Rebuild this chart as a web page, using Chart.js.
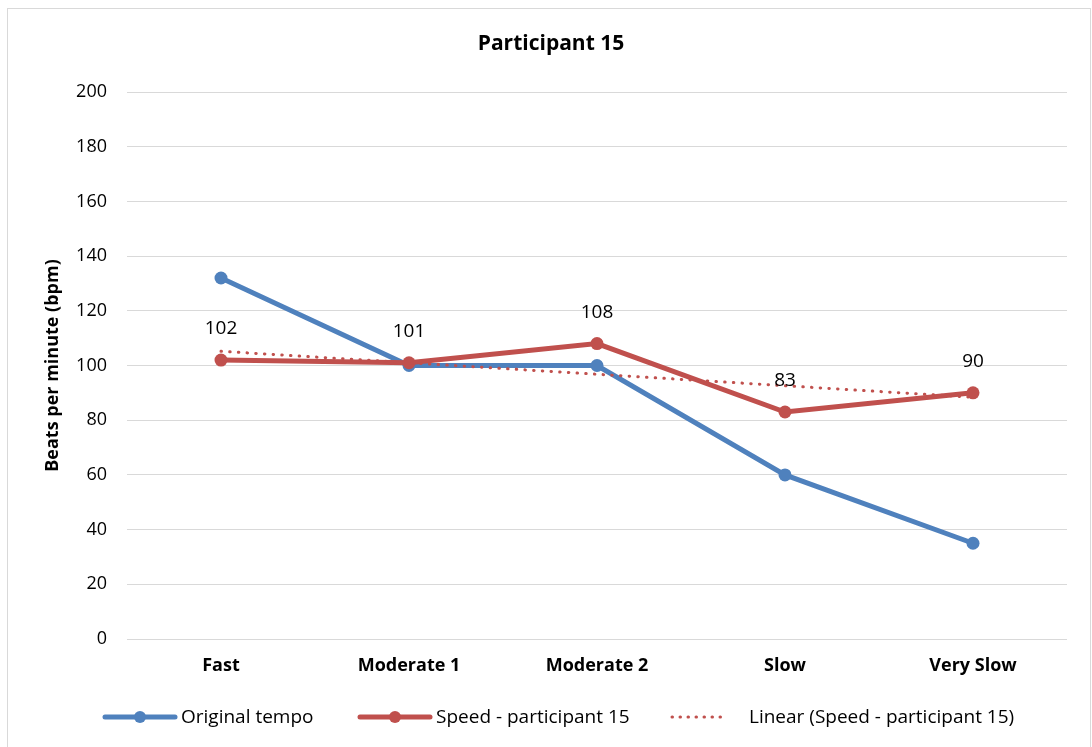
<!DOCTYPE html>
<html>
<head>
<meta charset="utf-8">
<script src="https://cdn.jsdelivr.net/npm/chart.js@4/dist/chart.umd.min.js"></script>
<style>
  html, body { margin: 0; padding: 0; background: #fff; }
  #wrap { width: 1092px; height: 747px; position: relative; }
</style>
</head>
<body>
<div id="wrap"><canvas id="tempoChart"></canvas></div>
<script>
// Tempo categories and measured bpm values
const categories = ['Fast', 'Moderate 1', 'Moderate 2', 'Slow', 'Very Slow'];
const originalTempo = [132, 100, 100, 60, 35];
const speedP15 = [102, 101, 108, 83, 90];
const linearP15 = [105.2, 101.0, 96.8, 92.6, 88.4];
const yTicks = [0, 20, 40, 60, 80, 100, 120, 140, 160, 180, 200];

const FONT = '"Open Sans", "Noto Sans", sans-serif';
const BLUE = '#4f81bd';
const RED = '#c0504d';

// frame around the whole chart
const framePlugin = {
    id: 'frame',
    beforeDraw(chart) {
        const ctx = chart.ctx;
        ctx.save();
        ctx.fillStyle = '#fff';
        ctx.fillRect(0, 0, chart.width, chart.height);
        ctx.strokeStyle = '#d9d9d9';
        ctx.lineWidth = 1;
        ctx.strokeRect(7.5, 8.5, chart.width - 9, chart.height + 10);
        ctx.restore();
    }
};

// value labels above the speed series
const valueLabels = {
    id: 'valueLabels',
    afterDatasetsDraw(chart) {
        const ctx = chart.ctx;
        const meta = chart.getDatasetMeta(1);
        ctx.save();
        ctx.font = '19px ' + FONT;
        ctx.fillStyle = '#000';
        ctx.textAlign = 'center';
        ctx.textBaseline = 'middle';
        meta.data.forEach((pt, i) => {
            ctx.fillText(String(speedP15[i]), pt.x, pt.y - 31);
        });
        ctx.restore();
    }
};

// legend row at the bottom: line sample with marker, then the label
const bottomLegend = {
    id: 'bottomLegend',
    afterDraw(chart) {
        const ctx = chart.ctx;
        const y = 717;
        const items = [
            { x: 105, text: 'Original tempo', color: BLUE, marker: true },
            { x: 360, text: 'Speed - participant 15', color: RED, marker: true },
            { x: 672, text: 'Linear (Speed - participant 15)', color: RED, marker: false }
        ];
        ctx.save();
        ctx.font = '19px ' + FONT;
        ctx.textBaseline = 'middle';
        items.forEach(it => {
            if (it.marker) {
                ctx.strokeStyle = it.color;
                ctx.lineWidth = 5;
                ctx.lineCap = 'round';
                ctx.beginPath();
                ctx.moveTo(it.x, y);
                ctx.lineTo(it.x + 70, y);
                ctx.stroke();
                ctx.fillStyle = it.color;
                ctx.beginPath();
                ctx.arc(it.x + 35, y, 6, 0, Math.PI * 2);
                ctx.fill();
                ctx.fillStyle = '#000';
                ctx.fillText(it.text, it.x + 76, y + 1);
            } else {
                ctx.strokeStyle = it.color;
                ctx.lineWidth = 3;
                ctx.lineCap = 'round';
                ctx.setLineDash([0.5, 7.5]);
                ctx.beginPath();
                ctx.moveTo(it.x, y);
                ctx.lineTo(it.x + 50, y);
                ctx.stroke();
                ctx.setLineDash([]);
                ctx.fillStyle = '#000';
                ctx.fillText(it.text, it.x + 77, y + 1);
            }
        });
        ctx.restore();
    }
};

new Chart(document.getElementById('tempoChart'), {
    type: 'line',
    data: {
        labels: categories,
        datasets: [
            {
                label: 'Original tempo',
                data: originalTempo,
                borderColor: BLUE,
                backgroundColor: BLUE,
                borderWidth: 5,
                pointRadius: 6.5,
                pointBorderWidth: 0,
                tension: 0,
                order: 3
            },
            {
                label: 'Speed - participant 15',
                data: speedP15,
                borderColor: RED,
                backgroundColor: RED,
                borderWidth: 5,
                pointRadius: 6.5,
                pointBorderWidth: 0,
                tension: 0,
                order: 2
            },
            {
                label: 'Linear (Speed - participant 15)',
                data: linearP15,
                borderColor: RED,
                borderWidth: 3,
                borderDash: [0.5, 8.2],
                borderCapStyle: 'round',
                pointRadius: 0,
                tension: 0,
                order: 1
            }
        ]
    },
    options: {
        responsive: true,
        maintainAspectRatio: false,
        animation: false,
        layout: { padding: { top: 92, left: 8, right: 25, bottom: 58 } },
        plugins: {
            legend: { display: false },
            tooltip: { enabled: false },
            title: { display: false }
        },
        scales: {
            x: {
                offset: true,
                grid: { display: false, drawTicks: false },
                border: { display: false },
                ticks: {
                    padding: 16,
                    color: '#000',
                    font: { family: FONT, size: 18, weight: 'bold' }
                },
                afterFit(scale) { scale.height = 50; }
            },
            y: {
                min: 0,
                max: 200,
                afterBuildTicks(scale) { scale.ticks = yTicks.map(v => ({ value: v })); },
                grid: { color: '#d9d9d9', lineWidth: 1, drawTicks: false },
                border: { display: false },
                ticks: {
                    padding: 20,
                    color: '#000',
                    font: { family: FONT, size: 18 }
                },
                title: {
                    display: true,
                    text: 'Beats per minute (bpm)',
                    color: '#000',
                    font: { family: FONT, size: 18, weight: 'bold' },
                    padding: { top: 34, bottom: 0 }
                },
                afterFit(scale) { scale.width = 119; }
            }
        }
    },
    plugins: [framePlugin, valueLabels, bottomLegend, {
        id: 'chartTitle',
        afterDraw(chart) {
            const ctx = chart.ctx;
            ctx.save();
            ctx.font = 'bold 21px ' + FONT;
            ctx.fillStyle = '#000';
            ctx.textAlign = 'center';
            ctx.textBaseline = 'middle';
            ctx.fillText('Participant 15', 551, 44);
            ctx.restore();
        }
    }]
});
</script>
</body>
</html>
